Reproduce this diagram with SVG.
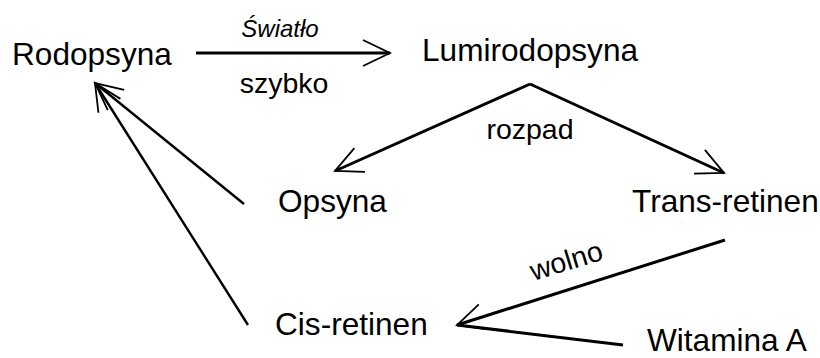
<svg xmlns="http://www.w3.org/2000/svg" width="820" height="358" viewBox="0 0 820 358">
<style>
.node{font-family:"Liberation Sans",Arial,sans-serif;font-size:31.6px;fill:#000}
.lbl{font-family:"Liberation Sans",Arial,sans-serif;font-size:28.5px;fill:#000}
.it{font-style:italic;font-size:24px}
.ln{fill:none;stroke:#000;stroke-width:3;stroke-linecap:butt}
.thin{stroke-width:2.4}
</style>
<defs>
<marker id="head" viewBox="-40 -25 50 50" refX="0" refY="0" markerWidth="50" markerHeight="50" markerUnits="userSpaceOnUse" orient="auto" overflow="visible">
<path d="M-27,-13 L0,0 L-27,13" fill="none" stroke="#000" stroke-width="1.8"/>
</marker>
</defs>
<rect width="820" height="358" fill="#fff"/>
<g id="connectors">
<line class="ln" x1="196" y1="53" x2="390" y2="53" marker-end="url(#head)"/>
<line class="ln" x1="530" y1="84" x2="724" y2="173" marker-end="url(#head)"/>
<line class="ln" x1="530" y1="84" x2="335" y2="171" marker-end="url(#head)"/>
<line class="ln thin" x1="244" y1="204" x2="95" y2="83" marker-end="url(#head)"/>
<line class="ln thin" x1="248" y1="325" x2="95" y2="83" marker-end="url(#head)"/>
<line class="ln" x1="725" y1="240" x2="457" y2="325" marker-end="url(#head)"/>
<line class="ln" x1="623" y1="345" x2="457" y2="325"/>
<text class="lbl it" x="280" y="37" text-anchor="middle">Światło</text>
<text class="lbl" x="284" y="93" text-anchor="middle">szybko</text>
<text class="lbl" x="530" y="139" text-anchor="middle">rozpad</text>
<text class="lbl" x="569" y="270" text-anchor="middle" transform="rotate(-17 569 270)">wolno</text>
</g>
<g id="rodopsyna"><text class="node" x="12" y="65">Rodopsyna</text></g>
<g id="lumirodopsyna"><text class="node" x="422" y="61">Lumirodopsyna</text></g>
<g id="opsyna"><text class="node" x="278" y="212">Opsyna</text></g>
<g id="trans-retinen"><text class="node" x="632" y="212">Trans-retinen</text></g>
<g id="cis-retinen"><text class="node" x="275" y="335">Cis-retinen</text></g>
<g id="witamina-a"><text class="node" x="647" y="351">Witamina A</text></g>
</svg>
